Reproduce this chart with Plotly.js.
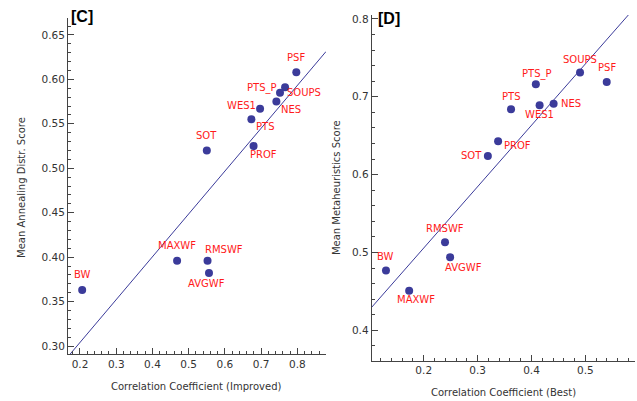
<!DOCTYPE html>
<html>
<head>
<meta charset="utf-8">
<script src="https://cdn.plot.ly/plotly-3.0.1.min.js"></script>
<style>html,body{margin:0;padding:0;background:#fff;}#chart{width:637px;height:401px;}</style>
</head>
<body>
<div id="chart"></div>
<script>
// ---- data ----
const methods = ['PSF','SOUPS','PTS_P','NES','WES1','PTS','PROF','SOT','MAXWF','RMSWF','AVGWF','BW'];
const corrImproved = [0.797,0.766,0.752,0.742,0.697,0.673,0.679,0.550,0.468,0.552,0.556,0.206];
const annealScore  = [0.608,0.591,0.585,0.575,0.567,0.555,0.525,0.520,0.396,0.396,0.382,0.363];
const corrBest     = [0.5395,0.490,0.408,0.441,0.415,0.362,0.338,0.319,0.173,0.2395,0.249,0.130];
const metaScore    = [0.719,0.731,0.716,0.691,0.689,0.684,0.643,0.624,0.451,0.513,0.494,0.477];
const fitC = [0.2076, 0.482];   // intercept, slope
const fitD = [0.348, 0.7885];
const xTicksC = [0.2,0.3,0.4,0.5,0.6,0.7,0.8];
const yTicksC = [0.30,0.35,0.40,0.45,0.50,0.55,0.60,0.65];
const xTicksD = [0.2,0.3,0.4,0.5];
const yTicksD = [0.4,0.5,0.6,0.7,0.8];

// ---- label placement (pixels) ----
const offC = {PSF:[0,15],SOUPS:[19,-5],PTS_P:[-18,5],NES:[15,-8],WES1:[-19,3],PTS:[14,-7],PROF:[10,-8],SOT:[0,15],MAXWF:[0,15],RMSWF:[16,11],AVGWF:[-2,-10],BW:[0,16]};
const offD = {PSF:[0,14],SOUPS:[0,13],PTS_P:[1,10],NES:[17,0],WES1:[0,-9],PTS:[0,13],PROF:[19,-4],SOT:[-16,0],MAXWF:[7,-9],RMSWF:[0,14],AVGWF:[13,-10],BW:[0,14]};

const rangeXC = [0.167,0.879], rangeYC = [0.291,0.669];
const rangeXD = [0.1035,0.592], rangeYD = [0.361,0.805];

const navy = '#3b3b9a';
const red = '#ff1a1a';
const font = 'DejaVu Sans, sans-serif';

const traces = [
  {x: rangeXC, y: rangeXC.map(v => fitC[0] + fitC[1]*v), mode:'lines', line:{color:navy,width:1}, xaxis:'x', yaxis:'y', hoverinfo:'skip'},
  {x: corrImproved, y: annealScore, mode:'markers', marker:{color:navy,size:8}, xaxis:'x', yaxis:'y', text:methods},
  {x: rangeXD, y: rangeXD.map(v => fitD[0] + fitD[1]*v), mode:'lines', line:{color:navy,width:1}, xaxis:'x2', yaxis:'y2', hoverinfo:'skip'},
  {x: corrBest, y: metaScore, mode:'markers', marker:{color:navy,size:8}, xaxis:'x2', yaxis:'y2', text:methods}
];

const annotations = [];
methods.forEach((m,i) => {
  annotations.push({x: corrImproved[i], y: annealScore[i], xref:'x', yref:'y', text:m, showarrow:false,
    xanchor:'center', yanchor:'middle',
    xshift: offC[m][0], yshift: offC[m][1], font:{family:font,size:10,color:red}});
  annotations.push({x: corrBest[i], y: metaScore[i], xref:'x2', yref:'y2', text:m, showarrow:false,
    xanchor:'center', yanchor:'middle',
    xshift: offD[m][0], yshift: offD[m][1], font:{family:font,size:10,color:red}});
});
const titleFont = {family:font,size:10,color:'#333'};
const pa = {xref:'paper', yref:'paper', showarrow:false, xanchor:'center', yanchor:'middle'};
annotations.push(
  Object.assign({text:'Correlation Coefficient (Improved)', x:0.3077, y:0.0374, font:titleFont}, pa),
  Object.assign({text:'Mean Annealing Distr. Score', x:0.0345, y:0.5337, textangle:-90, font:titleFont}, pa),
  Object.assign({text:'Correlation Coefficient (Best)', x:0.7912, y:0.0224, font:titleFont}, pa),
  Object.assign({text:'Mean Metaheuristics Score', x:0.5275, y:0.531, textangle:-90, font:titleFont}, pa),
  Object.assign({text:'<b>[C]</b>', x:0.1295, y:0.960, font:{family:'Liberation Sans, Arial, sans-serif',size:16,color:'#000'}}, pa),
  Object.assign({text:'<b>[D]</b>', x:0.6107, y:0.954, font:{family:'Liberation Sans, Arial, sans-serif',size:16,color:'#000'}}, pa)
);

function ax(range, ticks, dtickMinor, domain, anchor, dec){
  return {range: range, domain: domain, anchor: anchor, tickvals: ticks,
    ticktext: ticks.map(v => v.toFixed(dec)),
    showgrid:false, zeroline:false, showline:true, linecolor:'#444', linewidth:1,
    ticks:'inside', ticklen:6, tickcolor:'#444', tickwidth:1,
    minor:{dtick:dtickMinor, tick0:0, ticks:'inside', ticklen:3, tickcolor:'#444', showgrid:false},
    tickfont:{family:font,size:10.5,color:'#333'}, fixedrange:true};
}

const layout = {
  width:637, height:401, margin:{l:0,r:0,t:0,b:0}, showlegend:false,
  paper_bgcolor:'#fff', plot_bgcolor:'#fff',
  xaxis: ax(rangeXC, xTicksC, 0.02, [0.1068,0.5118], 'y', 1),
  yaxis: ax(rangeYC, yTicksC, 0.01, [0.1172,0.9551], 'x', 2),
  xaxis2: ax(rangeXD, xTicksD, 0.02, [0.5835,0.9969], 'y2', 1),
  yaxis2: ax(rangeYD, yTicksD, 0.02, [0.1005,0.9626], 'x2', 1),
  annotations: annotations
};

Plotly.newPlot('chart', traces, layout, {staticPlot:true, displayModeBar:false});
</script>
</body>
</html>
